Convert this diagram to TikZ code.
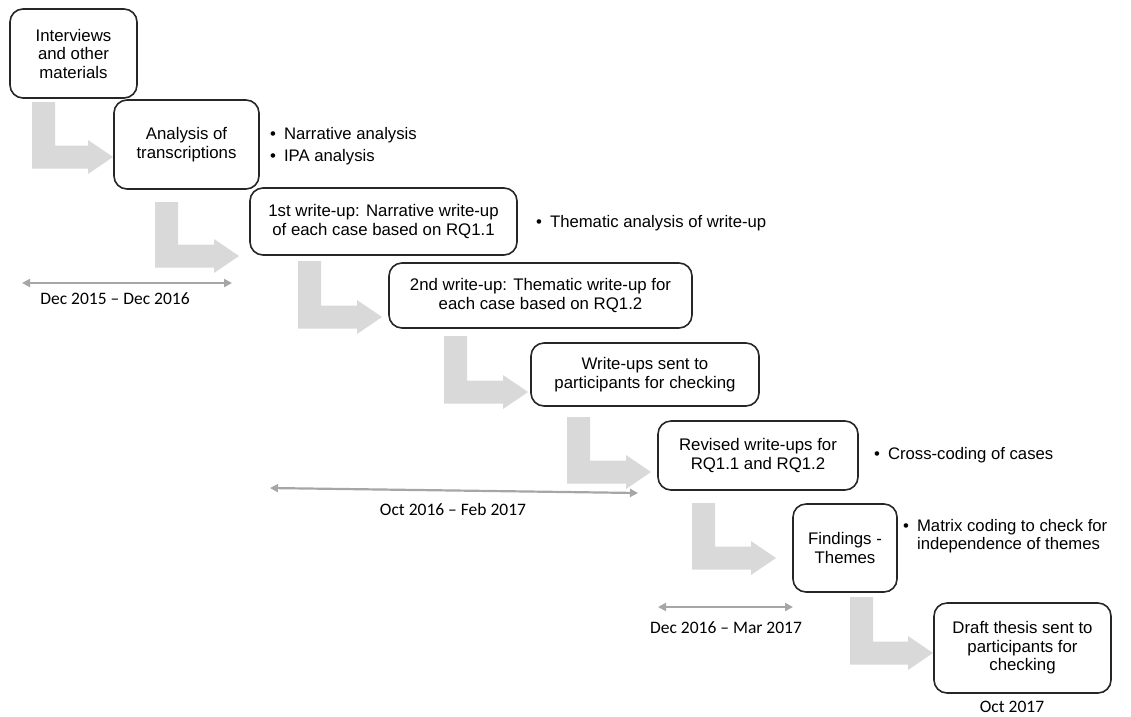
\documentclass[tikz,border=0pt]{standalone}
\usepackage{fontspec}
\setmainfont{Liberation Sans}
\newfontfamily\datefont{Carlito}
\usetikzlibrary{arrows.meta}
\definecolor{bendgray}{HTML}{D9D9D9}
\definecolor{spangray}{HTML}{A6A6A6}
\tikzset{
  stage/.style={draw=black!85,line width=1.6pt,rounded corners=13pt,align=center,
    inner sep=0pt,font=\fontsize{16.8}{18.5}\selectfont},
  note/.style={anchor=west,align=left,inner sep=0pt,font=\fontsize{16.7}{22}\selectfont},
  span/.style={spangray,line width=2.2pt,{Triangle[length=8pt,width=8pt]}-{Triangle[length=8pt,width=8pt]}},
  when/.style={inner sep=0pt,font=\datefont\fontsize{17.5}{20}\selectfont}
}
% bent arrow: shaft left x, shaft top y, tip x, tip y
\newcommand{\bentarrow}[4]{%
  \fill[bendgray] (#1,#2) -- ++(23,0) -- (#1+23,#4-11.5) -- (#3-25,#4-11.5) -- ++(0,-5.5)
    -- (#3,#4) -- (#3-25,#4+17) -- ++(0,-5.5) -- (#1,#4+11.5) -- cycle;}
\newcommand{\bul}{\textbullet\hspace{8pt}}
\begin{document}
\begin{tikzpicture}[x=1pt,y=-1pt]
\useasboundingbox (0,0) rectangle (1131,716);

% arrows between stages
\bentarrow{32}{102}{113}{157}
\bentarrow{155}{202}{239}{256}
\bentarrow{298}{261}{382}{317}
\bentarrow{444}{336}{528}{392}
\bentarrow{567}{417}{651}{472}
\bentarrow{692}{503}{776}{558}
\bentarrow{850}{597}{933}{653}

% stages
\node[stage,minimum width=127pt,minimum height=89pt] (interviews) at (73.5,53.5) {Interviews\\and other\\materials};
\node[stage,minimum width=145pt,minimum height=89pt] (analysis) at (186.5,144.5) {Analysis of\\transcriptions};
\node[stage,minimum width=267pt,minimum height=67pt] (firstwu) at (383.5,221.5) {1st write-up: Narrative write-up\\of each case based on RQ1.1};
\node[stage,minimum width=303pt,minimum height=65pt] (secondwu) at (540.5,295.5) {2nd write-up: Thematic write-up for\\each case based on RQ1.2};
\node[stage,minimum width=228pt,minimum height=63pt] (sent) at (645,374.5) {Write-ups sent to\\participants for checking};
\node[stage,minimum width=200pt,minimum height=69pt] (revised) at (758,455.5) {Revised write-ups for\\RQ1.1 and RQ1.2};
\node[stage,minimum width=104pt,minimum height=88pt] (findings) at (845,548) {Findings -\\Themes};
\node[stage,minimum width=177pt,minimum height=90pt] (draft) at (1022.5,648) {Draft thesis sent to\\participants for\\checking};

% notes
\node[note] (n1) at (270,146) {\bul Narrative analysis\\\bul IPA analysis};
\node[note] (n2) at (536,223) {\bul Thematic analysis of write-up};
\node[note] (n3) at (874,455) {\bul Cross-coding of cases};
\node[note,font=\fontsize{16.7}{18.5}\selectfont] (n4) at (903,536) {\bul Matrix coding to check for\\\hphantom{\bul}independence of themes};

% time spans
\coordinate (s1a) at (22,283);  \coordinate (s1b) at (232,283);
\coordinate (s2a) at (270,488); \coordinate (s2b) at (638,493);
\coordinate (s3a) at (658,607); \coordinate (s3b) at (793,607);
\draw[span] (s1a) -- (s1b);
\draw[span] (s2a) -- (s2b);
\draw[span] (s3a) -- (s3b);
\node[when] (t1) at (115,299) {Dec 2015 \textendash{} Dec 2016};
\node[when] (t2) at (453,509) {Oct 2016 \textendash{} Feb 2017};
\node[when] (t3) at (726,628) {Dec 2016 \textendash{} Mar 2017};
\node[when] (t4) at (1012,707) {Oct 2017};
\end{tikzpicture}
\end{document}
